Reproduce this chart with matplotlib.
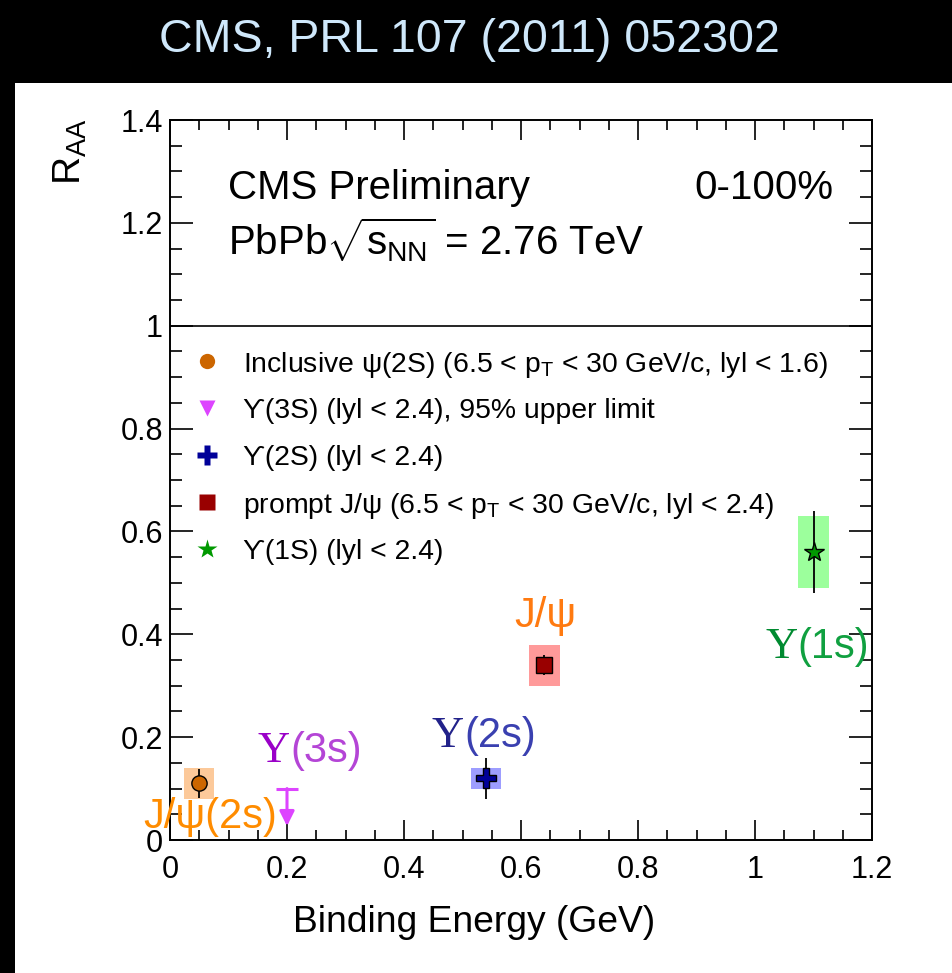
import numpy as np
import matplotlib
matplotlib.use("Agg")
from matplotlib import pyplot as plt
from matplotlib.patches import Rectangle

plt.rcParams['font.family'] = ['Liberation Sans', 'DejaVu Sans']
plt.rcParams['mathtext.fontset'] = 'custom'
plt.rcParams['mathtext.rm'] = 'Liberation Serif'
plt.rcParams['mathtext.sf'] = 'Liberation Sans'
plt.rcParams['mathtext.it'] = 'Liberation Sans'
plt.rcParams['mathtext.default'] = 'regular'

W, H = 952, 973

# R_AA vs binding energy, one entry per state
states = ['psi2S', 'Y3S', 'Y2S', 'Jpsi', 'Y1S']
binding = [0.05, 0.20, 0.54, 0.64, 1.10]
raa = [0.11, 0.10, 0.12, 0.34, 0.56]
stat_err = [0.028, 0.0, 0.04, 0.02, 0.08]
syst_err = [0.03, 0.0, 0.02, 0.04, 0.07]
box_halfwidth = 0.026

# Y(3S) is only an upper limit
ul_x = binding[1]
ul_val = raa[1]

legend_labels = [
    r'Inclusive ψ(2S) (6.5 < $p_T$ < 30 GeV/c, lyl < 1.6)',
    'ϒ(3S) (lyl < 2.4), 95% upper limit',
    'ϒ(2S) (lyl < 2.4)',
    r'prompt J/ψ (6.5 < $p_T$ < 30 GeV/c, lyl < 2.4)',
    'ϒ(1S) (lyl < 2.4)',
]
marker_col = {'psi2S': '#cc6600', 'Y3S': '#dd44ff', 'Y2S': '#000099',
              'Jpsi': '#990000', 'Y1S': '#009900'}
box_col = {'psi2S': '#fcc99a', 'Y2S': '#9d9dff', 'Jpsi': '#ff9a9a',
           'Y1S': '#9cff9c'}
markers = {'psi2S': 'o', 'Y3S': 'v', 'Y2S': 'P', 'Jpsi': 's', 'Y1S': '*'}
msizes = {'psi2S': 11, 'Y3S': 11, 'Y2S': 14, 'Jpsi': 11, 'Y1S': 15}

xticks = [0, 0.2, 0.4, 0.6, 0.8, 1.0, 1.2]
yticks = [0, 0.2, 0.4, 0.6, 0.8, 1.0, 1.2, 1.4]


def fx(x):
    return x / W


def fy(y):
    return 1 - y / H


fig = plt.figure(figsize=(W / 100, H / 100), dpi=100, facecolor='black')
fig.patches.append(Rectangle((fx(15), 0), 1 - fx(15), fy(83),
                             transform=fig.transFigure, facecolor='white',
                             edgecolor='none', zorder=-1))
fig.text(fx(469), fy(40), 'CMS, PRL 107 (2011) 052302', color='#cfe8fb',
         fontsize=33.5, ha='center', va='center')

ax = fig.add_axes([fx(170), fy(840), fx(872) - fx(170), fy(120) - fy(840)])
ax.set_xlim(0, 1.2)
ax.set_ylim(0, 1.4)
ax.set_xticks(xticks)
ax.set_yticks(yticks)
ax.set_xticks(np.arange(0, 1.2001, 0.05), minor=True)
ax.set_yticks(np.arange(0, 1.4001, 0.05), minor=True)
ax.xaxis.set_major_formatter(matplotlib.ticker.FormatStrFormatter('%g'))
ax.yaxis.set_major_formatter(matplotlib.ticker.FormatStrFormatter('%g'))
ax.tick_params(which='both', direction='in', top=True, right=True,
               labelsize=22, width=1.2)
ax.tick_params(axis='y', which='major', length=16.5, pad=5)
ax.tick_params(axis='y', which='minor', length=8.6)
ax.tick_params(axis='x', which='major', length=14.4, pad=11)
ax.tick_params(axis='x', which='minor', length=7.2)
for sp in ax.spines.values():
    sp.set_linewidth(1.4)

ax.axhline(1.0, color='black', lw=1.2, zorder=1)

# systematic boxes, then stat error bars and markers
for i, s in enumerate(states):
    if s == 'Y3S':
        continue
    ax.bar(binding[i], 2 * syst_err[i], bottom=raa[i] - syst_err[i],
           width=2 * box_halfwidth, color=box_col[s], edgecolor='none',
           zorder=2)
    ax.errorbar(binding[i], raa[i], yerr=stat_err[i], fmt=markers[s],
                color='black', ecolor='black', elinewidth=1.3, capsize=0,
                mfc=marker_col[s], mec='black', mew=1.0, ms=msizes[s],
                zorder=3)

# upper limit: cap plus downward arrow
ul_col = marker_col['Y3S']
ax.plot([ul_x - 0.019, ul_x + 0.019], [ul_val, ul_val], color=ul_col,
        lw=2.2, zorder=3, solid_capstyle='butt')
ax.annotate('', xy=(ul_x, ul_val * 0.27), xytext=(ul_x, ul_val),
            arrowprops=dict(arrowstyle='-|>', color=ul_col, lw=2.2,
                            mutation_scale=22, shrinkA=0, shrinkB=0),
            zorder=3)

# state labels next to the points
lab_fs = 30
ax.text(0.068, 0.024, 'J/ψ(2s)', color='#ff8c00', fontsize=lab_fs,
        ha='center', va='baseline', zorder=4)
ax.text(0.641, 0.414, 'J/ψ', color='#ff7a10', fontsize=lab_fs,
        ha='center', va='baseline', zorder=4)
for bx, by, yc, pc, tag in [(0.205, 0.152, '#9a00c8', '#b445d6', '(3s)'),
                            (0.5026, 0.181, '#22228a', '#3a40b0', '(2s)'),
                            (1.073, 0.354, '#008a30', '#10a040', '(1s)')]:
    ax.text(bx, by, 'Y', family='Liberation Serif', color=yc,
            fontsize=lab_fs + 2, ha='right', va='baseline', zorder=4)
    ax.text(bx, by, tag, color=pc, fontsize=lab_fs, ha='left',
            va='baseline', zorder=4)

# legend
leg_fs = 20.4
for k, (s, lab) in enumerate(zip(states, legend_labels)):
    y = fy(361 + 47 * k)
    fig.lines.append(matplotlib.lines.Line2D(
        [fx(207)], [y], transform=fig.transFigure, marker=markers[s],
        ms=msizes[s], mfc=marker_col[s], mec='none', ls='none'))
    fig.text(fx(243), y, lab, fontsize=leg_fs, ha='left', va='center_baseline')

fig.text(fx(228), fy(199), 'CMS Preliminary', fontsize=29, ha='left',
         va='baseline')
fig.text(fx(833), fy(199), '0-100%', fontsize=29, ha='right', va='baseline')
fig.text(fx(228), fy(255), r'PbPb$\sqrt{s_{NN}}$ = 2.76 TeV', fontsize=29,
         ha='left', va='baseline')

fig.text(fx(70), fy(152), r'R$_{AA}$', fontsize=28, rotation=90,
         ha='center', va='center')
fig.text(fx(474), fy(932), 'Binding Energy (GeV)', fontsize=26.8,
         ha='center', va='baseline')

fig.savefig('out.png', dpi=100, facecolor=fig.get_facecolor())
